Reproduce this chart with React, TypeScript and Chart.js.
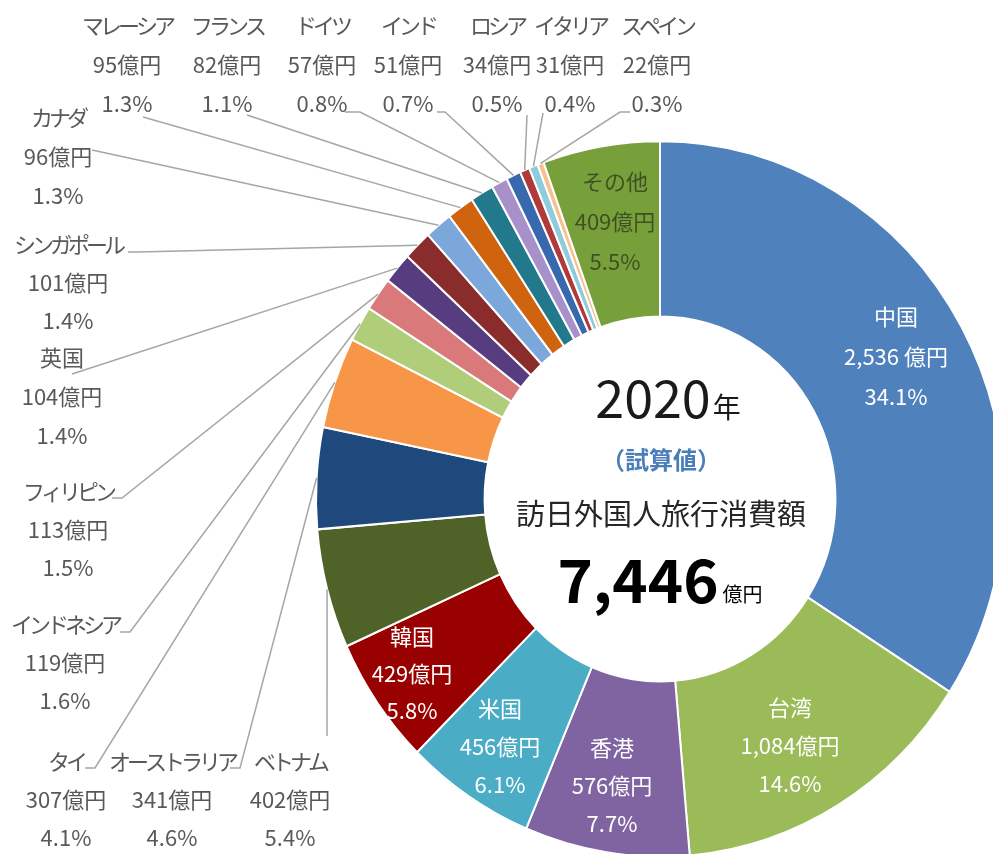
import React, { useEffect, useRef } from "react";
import { Chart, registerables } from "chart.js";

Chart.register(...registerables);

// ---------- data ----------
const countries = [
  "中国", "台湾", "香港", "米国", "韓国", "ベトナム", "オーストラリア", "タイ",
  "インドネシア", "フィリピン", "英国", "シンガポール", "カナダ", "マレーシア",
  "フランス", "ドイツ", "インド", "ロシア", "イタリア", "スペイン", "その他",
];
const amounts = [2536, 1084, 576, 456, 429, 402, 341, 307, 119, 113, 104, 101, 96, 95, 82, 57, 51, 34, 31, 22, 409];
const amountTexts = [
  "2,536 億円", "1,084億円", "576億円", "456億円", "429億円", "402億円", "341億円", "307億円",
  "119億円", "113億円", "104億円", "101億円", "96億円", "95億円", "82億円", "57億円",
  "51億円", "34億円", "31億円", "22億円", "409億円",
];
const shares = [34.1, 14.6, 7.7, 6.1, 5.8, 5.4, 4.6, 4.1, 1.6, 1.5, 1.4, 1.4, 1.3, 1.3, 1.1, 0.8, 0.7, 0.5, 0.4, 0.3, 5.5];
const colors = [
  "#4F81BD", "#9BBB59", "#8064A2", "#4BACC6", "#990000", "#4F6228", "#1F497D", "#F79646",
  "#B0CE7A", "#D9797A", "#573C7F", "#8B2C2C", "#7BA7DB", "#D0640E", "#22798B", "#A891CB",
  "#3868AD", "#B03A3A", "#8ECBDB", "#F7C08F", "#77A03A",
];
const yearText = "2020";
const yearUnit = "年";
const noteText = "（試算値）";
const titleText = "訪日外国人旅行消費額";
const totalText = "7,446";
const totalUnit = "億円";

// ---------- layout (label placement only) ----------
type LabelLayout = {
  i: number;
  x: number;
  y: number;
  gap: number;
  color: string;
  leader?: [number, number][];
};
const GREY = "#595959";
const labelLayout: LabelLayout[] = [
  { i: 0, x: 896, y: 317, gap: 40, color: "#FFFFFF" },
  { i: 1, x: 790, y: 708, gap: 38, color: "#FFFFFF" },
  { i: 2, x: 612, y: 748, gap: 38, color: "#FFFFFF" },
  { i: 3, x: 500, y: 709, gap: 38, color: "#FFFFFF" },
  { i: 4, x: 412, y: 637, gap: 37, color: "#FFFFFF" },
  { i: 20, x: 615, y: 182, gap: 40, color: "#3F5124" },
  { i: 5, x: 290, y: 762, gap: 38, color: GREY, leader: [[327, 736]] },
  { i: 6, x: 172, y: 762, gap: 38, color: GREY, leader: [[230, 768], [240, 768]] },
  { i: 7, x: 66, y: 762, gap: 38, color: GREY, leader: [[85, 768], [95, 768]] },
  { i: 8, x: 65, y: 625, gap: 38, color: GREY, leader: [[120, 632], [130, 632]] },
  { i: 9, x: 68, y: 492, gap: 38, color: GREY, leader: [[112, 498], [122, 498]] },
  { i: 10, x: 62, y: 358, gap: 39, color: GREY, leader: [[72, 374]] },
  { i: 11, x: 68, y: 245, gap: 38, color: GREY, leader: [[128, 252], [138, 252]] },
  { i: 12, x: 58, y: 118, gap: 39, color: GREY, leader: [[92, 150]] },
  { i: 13, x: 127, y: 26, gap: 39, color: GREY, leader: [[143, 117]] },
  { i: 14, x: 227, y: 26, gap: 39, color: GREY, leader: [[247, 115]] },
  { i: 15, x: 322, y: 26, gap: 39, color: GREY, leader: [[345, 112], [360, 112]] },
  { i: 16, x: 408, y: 26, gap: 39, color: GREY, leader: [[437, 112], [445, 112]] },
  { i: 17, x: 497, y: 26, gap: 39, color: GREY, leader: [[527, 115]] },
  { i: 18, x: 570, y: 26, gap: 39, color: GREY, leader: [[543, 113]] },
  { i: 19, x: 657, y: 26, gap: 39, color: GREY, leader: [[630, 112], [620, 112]] },
];

const SY = 1.04; // vertical stretch of the ring in the reference
const FONT = '"Noto Sans CJK JP", "Noto Sans", sans-serif';

const stretchPlugin = {
  id: "stretch",
  beforeDatasetsDraw(chart: any) {
    const arc = chart.getDatasetMeta(0).data[0] as any;
    const ctx = chart.ctx;
    ctx.save();
    ctx.translate(arc.x, arc.y);
    ctx.scale(1, SY);
    ctx.translate(-arc.x, -arc.y);
  },
  afterDatasetsDraw(chart: any) {
    chart.ctx.restore();
  },
};

function setSpacing(ctx: any, text: string) {
  if ("letterSpacing" in ctx) {
    ctx.letterSpacing = /^[\u30A0-\u30FF]+$/.test(text) ? "-4px" : "0px";
  }
}

const labelPlugin = {
  id: "labels",
  afterDraw(chart: any) {
    const ctx = chart.ctx as CanvasRenderingContext2D;
    const meta = chart.getDatasetMeta(0);
    const arcs = meta.data as any[];
    const cx = arcs[0].x;
    const cy = arcs[0].y;

    // leader lines
    ctx.save();
    ctx.strokeStyle = "#A6A6A6";
    ctx.lineWidth = 1.5;
    for (const l of labelLayout) {
      if (!l.leader) continue;
      const a = arcs[l.i];
      const mid = (a.startAngle + a.endAngle) / 2;
      const ex = a.x + Math.cos(mid) * a.outerRadius;
      const ey = a.y + Math.sin(mid) * a.outerRadius * SY;
      ctx.beginPath();
      ctx.moveTo(l.leader[0][0], l.leader[0][1]);
      for (let k = 1; k < l.leader.length; k++) ctx.lineTo(l.leader[k][0], l.leader[k][1]);
      ctx.lineTo(ex, ey);
      ctx.stroke();
    }
    ctx.restore();

    // data labels
    ctx.save();
    ctx.textAlign = "center";
    ctx.textBaseline = "middle";
    ctx.font = `22px ${FONT}`;
    for (const l of labelLayout) {
      const lines = [countries[l.i], amountTexts[l.i], `${shares[l.i].toFixed(1)}%`];
      ctx.fillStyle = l.color;
      lines.forEach((t, k) => {
        setSpacing(ctx, t);
        ctx.fillText(t, l.x, l.y + k * l.gap);
      });
    }
    if ("letterSpacing" in ctx) (ctx as any).letterSpacing = "0px";
    ctx.restore();

    // centre text
    ctx.save();
    ctx.textBaseline = "alphabetic";
    ctx.fillStyle = "#1A1A1A";
    // year
    ctx.font = `52px ${FONT}`;
    const wYear = ctx.measureText(yearText).width;
    ctx.font = `28px ${FONT}`;
    const wYU = ctx.measureText(yearUnit).width;
    let x0 = cx + 8 - (wYear + wYU + 2) / 2;
    ctx.textAlign = "left";
    ctx.font = `52px ${FONT}`;
    ctx.fillText(yearText, x0, cy - 81);
    ctx.font = `28px ${FONT}`;
    ctx.fillText(yearUnit, x0 + wYear + 2, cy - 81);

    // note
    ctx.textAlign = "center";
    ctx.textBaseline = "middle";
    ctx.fillStyle = "#4A7EBB";
    ctx.font = `bold 24px ${FONT}`;
    ctx.fillText(noteText, cx + 1, cy - 39);

    // title
    ctx.fillStyle = "#262626";
    ctx.font = `29px ${FONT}`;
    ctx.fillText(titleText, cx + 1, cy + 15);

    // total
    ctx.textBaseline = "alphabetic";
    ctx.textAlign = "left";
    ctx.fillStyle = "#000000";
    ctx.font = `bold 60px ${FONT}`;
    const wT = ctx.measureText(totalText).width;
    ctx.font = `20px ${FONT}`;
    const wTU = ctx.measureText(totalUnit).width;
    x0 = cx - (wT + wTU + 4) / 2;
    ctx.font = `bold 60px ${FONT}`;
    ctx.fillText(totalText, x0, cy + 104);
    ctx.font = `20px ${FONT}`;
    ctx.fillText(totalUnit, x0 + wT + 4, cy + 103);
    ctx.restore();
  },
};

export default function App() {
  const ref = useRef<HTMLCanvasElement | null>(null);
  useEffect(() => {
    document.body.style.margin = "0";
    const canvas = ref.current;
    if (!canvas) return;
    const chart = new Chart(canvas, {
      type: "doughnut",
      data: {
        labels: countries,
        datasets: [
          {
            data: amounts,
            backgroundColor: colors,
            borderColor: "#FFFFFF",
            borderWidth: 2,
          },
        ],
      },
      options: {
        responsive: false,
        animation: false,
        devicePixelRatio: 1,
        cutout: "51%",
        radius: 344,
        layout: { padding: { left: 327, right: 0, top: 144, bottom: 0 } },
        plugins: {
          legend: { display: false },
          tooltip: { enabled: false },
        },
      } as any,
      plugins: [stretchPlugin, labelPlugin],
    });
    return () => chart.destroy();
  }, []);
  return (
    <div style={{ width: 993, height: 854, overflow: "hidden", background: "#FFFFFF" }}>
      <canvas ref={ref} width={993} height={854} style={{ display: "block" }} />
    </div>
  );
}
